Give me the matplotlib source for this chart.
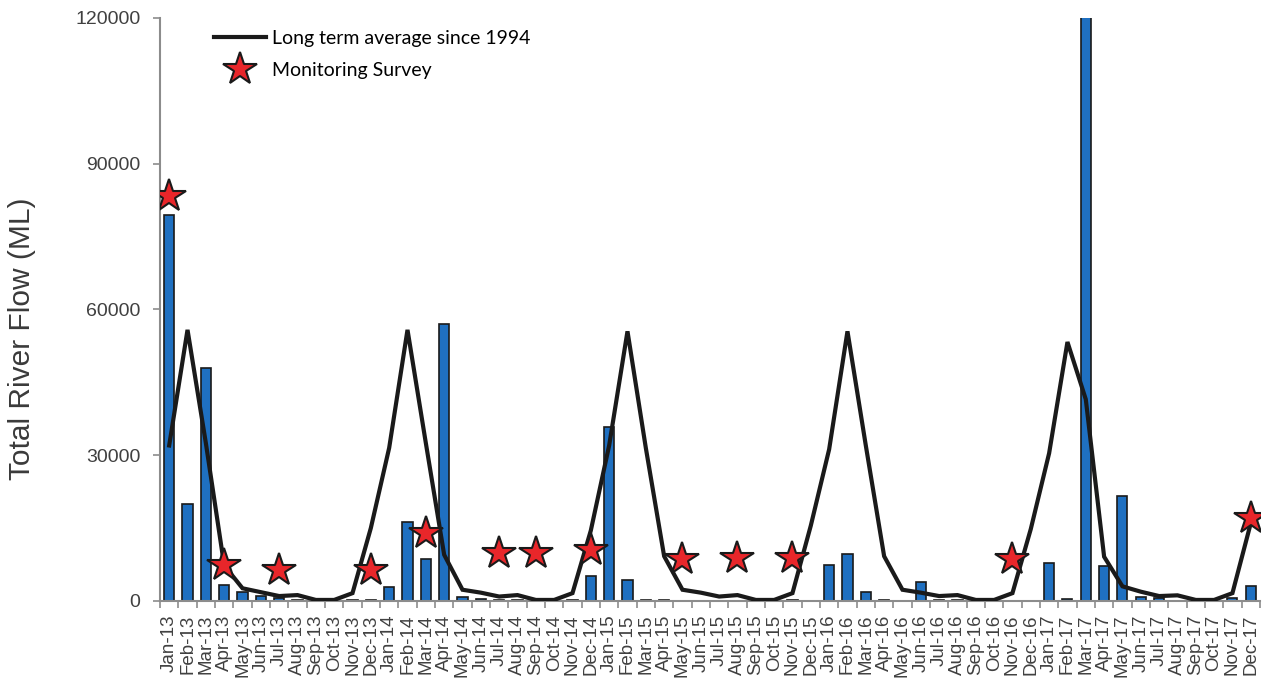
import numpy as np
import matplotlib
matplotlib.use("Agg")
import matplotlib.pyplot as plt
from matplotlib.lines import Line2D

plt.rcParams["font.family"] = ["Liberation Sans", "DejaVu Sans"]

years = ["13", "14", "15", "16", "17"]
month_names = ["Jan", "Feb", "Mar", "Apr", "May", "Jun",
               "Jul", "Aug", "Sep", "Oct", "Nov", "Dec"]
months = [m + "-" + y for y in years for m in month_names]

# monthly total river flow (ML)
flow = [
    79500, 20000, 48000, 3200, 1900, 1000, 550, 200, 0, 0, 150, 150,
    2900, 16300, 8700, 57000, 800, 350, 250, 200, 0, 0, 100, 5200,
    35900, 4400, 150, 150, 0, 0, 0, 0, 0, 0, 150, 0,
    7400, 9700, 1900, 150, 0, 3800, 150, 150, 0, 0, 0, 0,
    7800, 350, 150000, 7100, 21700, 800, 500, 0, 0, 0, 700, 3000,
]

# long term average since 1994
long_term = [
    32000, 55800, 32500, 7300, 2600, 1800, 1000, 1200, 200, 200, 1600, 15000,
    31500, 55800, 32500, 9500, 2300, 1700, 900, 1200, 200, 200, 1600, 14500,
    32000, 55500, 31500, 9200, 2300, 1700, 900, 1200, 200, 200, 1600, 15500,
    31200, 55500, 32000, 9200, 2300, 1700, 1000, 1200, 200, 200, 1600, 14800,
    30400, 53300, 41500, 9100, 3000, 1900, 1000, 1150, 200, 200, 1600, 16000,
]

survey_months = ["Jan-13", "Apr-13", "Jul-13", "Dec-13", "Mar-14", "Jul-14",
                 "Sep-14", "Dec-14", "May-15", "Aug-15", "Nov-15", "Nov-16",
                 "Dec-17"]
survey_values = [83300, 7400, 6400, 6300, 13900, 9800,
                 9800, 10400, 8600, 8800, 8800, 8600, 17000]

x = np.arange(len(months))
sx = [months.index(m) for m in survey_months]

fig = plt.figure(figsize=(12.65, 6.79), dpi=100)
ax = fig.add_axes([0.1265, 0.115, 0.8695, 0.8585])

ax.bar(x, flow, width=0.55, color="#1f70c1", edgecolor="#1a1a1a", linewidth=1.2, zorder=2)
ax.plot(x, long_term, color="#1a1a1a", linewidth=3.0, zorder=3,
        solid_joinstyle="miter")
ax.plot(sx, survey_values, linestyle="none", marker="*", markersize=25,
        markerfacecolor="#e8262a", markeredgecolor="#1a1a1a", markeredgewidth=1.5, zorder=4)

ax.set_xlim(-0.5, len(months) - 0.5)
ax.set_ylim(0, 120000)
ax.set_yticks([0, 30000, 60000, 90000, 120000])
ax.tick_params(axis="y", labelsize=14, colors="#8c8c8c", labelcolor="#404040",
               length=5, width=1.2, direction="out", pad=9)

ax.set_xticks(x)
ax.set_xticklabels(months, rotation=90, fontsize=13.5, color="#404040")
ax.set_xticks(np.arange(-0.5, len(months), 1.0), minor=True)
ax.tick_params(axis="x", which="major", length=0, pad=10)
ax.tick_params(axis="x", which="minor", length=5, width=1.2, color="#8c8c8c", direction="out")

for side in ["top", "right"]:
    ax.spines[side].set_visible(False)
for side in ["left", "bottom"]:
    ax.spines[side].set_color("#8c8c8c")
    ax.spines[side].set_linewidth(1.5)

ax.set_ylabel("Total River Flow (ML)", fontsize=21.5, color="#3a3a3a")
ax.yaxis.set_label_coords(-0.113, 0.45)

handles = [
    Line2D([], [], color="#1a1a1a", linewidth=3.0),
    Line2D([], [], linestyle="none", marker="*", markersize=25,
           markerfacecolor="#e8262a", markeredgecolor="#1a1a1a", markeredgewidth=1.5),
]
ax.legend(handles, ["Long term average since 1994", "Monitoring Survey"],
          loc="upper left", bbox_to_anchor=(0.033, 1.01), frameon=False,
          prop={"family": "Lato", "size": 14}, handlelength=2.7,
          handletextpad=0.3, labelspacing=0.77)

fig.savefig("out.png", dpi=100)
